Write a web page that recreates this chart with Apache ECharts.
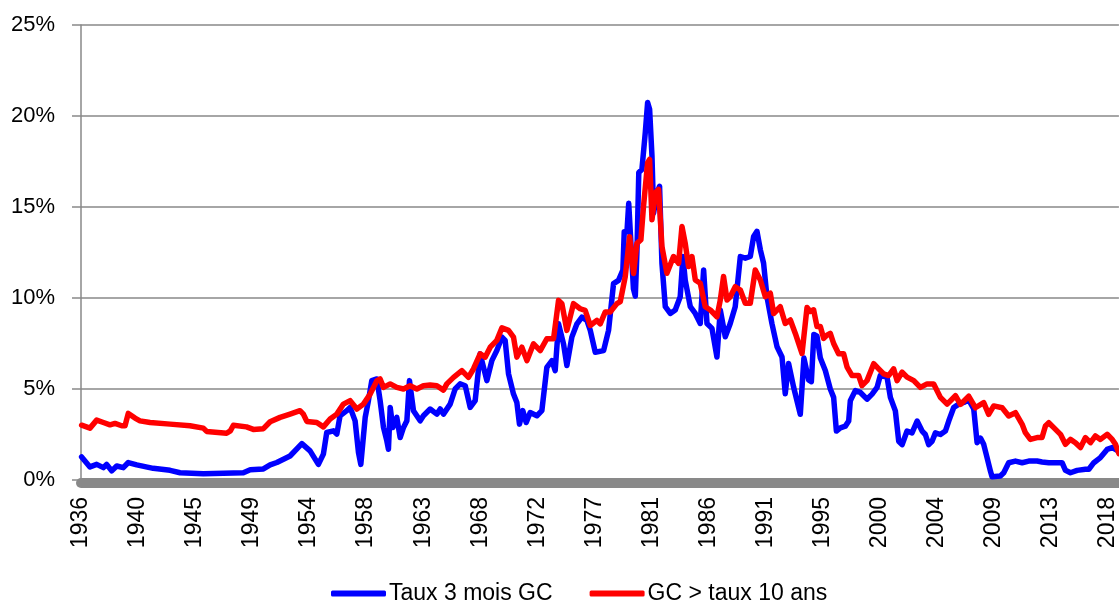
<!DOCTYPE html>
<html><head><meta charset="utf-8">
<script src="https://cdn.jsdelivr.net/npm/echarts@6/dist/echarts.min.js"></script>
<style>html,body{margin:0;padding:0;background:#fff}#c{width:1119px;height:601px}</style>
</head><body><div id="c"></div>
<script>
const tickLabels = ['1936','1940','1945','1949','1954','1958','1963','1968','1972','1977','1981','1986','1991','1995','2000','2004','2009','2013','2018'];

const blueDates = [1936.05,1936.72,1937.26,1937.8,1938.06,1938.47,1938.87,1939.4,1939.8,1940.48,1941.8,1943.16,1943.96,1945.83,1949.05,1949.6,1950.66,1951.2,1951.74,1952.8,1953.75,1954.41,1955.08,1955.48,1955.75,1956.29,1956.56,1956.82,1957.36,1957.63,1958.03,1958.3,1958.49,1958.84,1959.1,1959.37,1959.78,1960.04,1960.31,1960.58,1960.71,1960.85,1961.06,1961.38,1961.65,1961.92,1962.19,1962.4,1962.72,1963.26,1963.52,1964.06,1964.6,1964.87,1965.13,1965.67,1966.07,1966.47,1966.88,1967.28,1967.68,1968.08,1968.62,1969.02,1969.42,1969.83,1970.09,1970.36,1970.76,1971.03,1971.24,1971.51,1971.78,1972.1,1972.64,1973.04,1973.44,1973.85,1974.11,1974.38,1974.78,1975.05,1975.45,1975.86,1976.26,1976.66,1976.93,1977.33,1978.0,1978.4,1978.8,1979.2,1979.55,1979.66,1979.88,1980.02,1980.14,1980.4,1980.55,1980.68,1980.83,1981.08,1981.35,1981.54,1981.7,1981.89,1982.02,1982.29,1982.5,1982.69,1982.96,1983.36,1983.76,1984.16,1984.38,1984.56,1984.97,1985.37,1985.77,1986.04,1986.31,1986.71,1987.11,1987.38,1987.78,1988.18,1988.58,1988.99,1989.39,1989.79,1990.06,1990.33,1990.6,1990.86,1991.13,1991.53,1991.94,1992.34,1992.6,1992.87,1993.27,1993.81,1994.1,1994.48,1994.7,1994.9,1995.15,1995.42,1995.82,1996.22,1996.49,1996.71,1997.03,1997.43,1997.7,1997.83,1998.23,1998.64,1999.17,1999.58,1999.98,2000.24,2000.78,2001.05,2001.45,2001.72,2001.99,2002.39,2002.79,2003.2,2003.6,2003.86,2004.13,2004.4,2004.67,2005.07,2005.47,2005.74,2006.14,2006.55,2006.95,2007.35,2007.75,2008.02,2008.29,2008.55,2008.82,2009.09,2009.22,2009.89,2010.16,2010.56,2011.1,2011.64,2012.17,2012.84,2013.24,2013.78,2014.45,2014.85,2015.12,2015.52,2016.06,2016.73,2017.0,2017.4,2017.93,2018.47,2018.88,2019.28,2019.42];
const blueRates = [1.27,0.72,0.86,0.68,0.86,0.50,0.77,0.68,0.96,0.83,0.64,0.53,0.40,0.35,0.40,0.56,0.61,0.83,0.96,1.32,2.0,1.60,0.86,1.42,2.61,2.70,2.52,3.53,3.81,3.99,3.25,1.51,0.86,3.44,4.36,5.46,5.55,4.36,2.89,2.15,1.69,3.99,2.89,3.44,2.33,2.89,3.25,5.46,3.81,3.25,3.53,3.90,3.62,3.90,3.62,4.17,5.0,5.28,5.18,3.99,4.36,6.93,5.46,6.56,7.11,7.85,7.67,5.83,4.72,4.26,3.07,3.81,3.16,3.71,3.53,3.81,6.19,6.56,6.01,8.58,7.48,6.29,7.85,8.58,8.95,8.77,8.22,7.02,7.11,8.22,10.79,10.97,11.53,13.64,13.64,15.2,15.2,10.5,10.1,12.5,16.9,17.06,19.08,20.74,20.37,17.79,14.67,15.77,16.14,11.91,9.52,9.15,9.34,10.07,12.28,10.99,9.52,9.15,8.60,11.54,8.60,8.33,6.76,9.34,7.87,8.60,9.52,12.28,12.19,12.28,13.38,13.66,12.65,11.91,10.07,8.60,7.32,6.76,4.74,6.40,5.11,3.61,6.7,5.5,5.4,8.0,7.9,6.7,6.02,5.0,4.54,2.69,2.87,2.96,3.24,4.35,4.91,4.81,4.44,4.72,5.09,5.74,5.65,4.54,3.80,2.13,1.94,2.69,2.59,3.24,2.69,2.5,1.94,2.13,2.59,2.5,2.69,3.24,3.98,4.17,4.26,4.4,3.9,2.05,2.3,1.96,1.23,0.49,0.18,0.22,0.40,0.95,1.04,0.95,1.04,1.04,0.99,0.95,0.95,0.95,0.53,0.40,0.53,0.59,0.59,0.95,1.23,1.68,1.78,1.63,1.55];

const redDates = [1936.05,1936.72,1937.26,1937.8,1938.33,1938.73,1939.27,1939.54,1939.8,1940.34,1940.74,1941.55,1943.16,1944.76,1945.83,1946.1,1947.7,1948.0,1948.25,1949.3,1949.85,1950.66,1951.2,1952.0,1952.8,1953.6,1953.87,1954.15,1954.95,1955.48,1956.02,1956.56,1957.09,1957.63,1958.17,1958.7,1959.24,1959.78,1960.04,1960.31,1960.85,1961.38,1961.92,1962.45,1962.99,1963.52,1964.06,1964.6,1965.13,1965.4,1965.94,1966.61,1967.14,1967.54,1968.08,1968.48,1968.89,1969.42,1969.83,1970.36,1970.76,1971.03,1971.43,1971.84,1972.37,1972.91,1973.44,1973.98,1974.38,1974.65,1975.05,1975.58,1976.12,1976.52,1976.93,1977.46,1977.73,1978.13,1978.53,1979.07,1979.34,1979.74,1980.09,1980.41,1980.68,1981.0,1981.21,1981.54,1981.7,1981.89,1982.15,1982.42,1982.69,1983.09,1983.62,1984.03,1984.3,1984.56,1984.83,1985.1,1985.37,1985.77,1986.17,1986.58,1987.11,1987.38,1987.64,1987.92,1988.18,1988.58,1988.99,1989.39,1989.79,1990.19,1990.6,1991.0,1991.4,1991.67,1992.2,1992.6,1993.01,1993.41,1993.95,1994.35,1994.61,1994.88,1995.15,1995.42,1995.69,1995.96,1996.22,1996.49,1996.89,1997.29,1997.57,1997.97,1998.5,1998.77,1999.17,1999.71,2000.11,2000.51,2000.91,2001.31,2001.59,2001.99,2002.39,2002.93,2003.46,2004.0,2004.53,2005.07,2005.61,2006.28,2006.68,2007.35,2007.88,2008.55,2008.95,2009.36,2010.03,2010.56,2011.1,2011.64,2011.9,2012.3,2012.84,2013.24,2013.51,2013.78,2014.18,2014.72,2015.12,2015.52,2015.92,2016.33,2016.73,2017.13,2017.53,2017.93,2018.47,2018.88,2019.14,2019.42];
const redRates = [3.01,2.85,3.29,3.16,3.03,3.11,2.98,2.98,3.66,3.40,3.25,3.16,3.07,2.98,2.85,2.67,2.57,2.70,3.01,2.92,2.78,2.82,3.2,3.44,3.62,3.81,3.62,3.22,3.16,2.92,3.35,3.62,4.17,4.36,3.90,4.17,4.72,5.46,5.55,5.09,5.28,5.09,5.0,5.18,5.0,5.18,5.22,5.18,4.94,5.28,5.64,6.01,5.64,6.10,6.93,6.75,7.30,7.67,8.36,8.22,7.85,6.75,7.30,6.56,7.48,7.11,7.76,7.76,9.87,9.69,8.22,9.69,9.41,9.32,8.49,8.77,8.58,9.23,9.23,9.69,9.80,11.17,13.37,11.35,13.0,13.2,15.04,17.43,17.61,14.3,15.77,15.96,12.83,11.36,12.28,11.91,13.93,13.01,11.73,12.28,10.99,10.81,9.52,9.34,8.97,9.89,11.18,9.89,10.07,10.62,10.44,9.71,9.71,11.54,10.99,10.07,10.26,9.15,9.52,8.60,8.79,8.05,6.95,9.48,9.26,9.35,8.43,8.43,7.78,7.96,8.06,7.5,6.94,6.94,6.2,5.74,5.74,5.19,5.46,6.39,6.11,5.83,5.74,6.11,5.46,5.93,5.65,5.46,5.09,5.28,5.28,4.54,4.17,4.63,4.15,4.6,3.97,4.25,3.61,4.07,3.97,3.52,3.70,3.06,2.6,2.23,2.33,2.33,2.97,3.15,2.88,2.51,1.96,2.23,2.05,1.78,2.33,2.05,2.42,2.23,2.51,2.23,1.96,1.45];

const START_YEAR = 1936;
const MONTHS_PER_TICK = 55;
function toPairs(dates, rates){ return dates.map((d,i)=>[(d-START_YEAR)*12, rates[i]]); }

const FONT = 'Liberation Sans';
const GREY = '#898989';
const chart = echarts.init(document.getElementById('c'));
chart.setOption({
  animation:false,
  grid:{left:81,right:0,top:25,bottom:121},
  xAxis:{type:'value',min:0,max:1001,interval:MONTHS_PER_TICK,offset:3,
    axisLine:{show:true,onZero:false,lineStyle:{color:GREY,width:10}},
    axisTick:{show:false},splitLine:{show:false},
    axisLabel:{rotate:90,margin:14,fontSize:23,color:'#000',fontFamily:FONT,showMaxLabel:false,
      formatter:function(v){const i=Math.round(v/MONTHS_PER_TICK);return (Math.abs(v-i*MONTHS_PER_TICK)<1e-6&&i<tickLabels.length)?tickLabels[i]:'';}}
  },
  yAxis:{type:'value',min:0,max:25,interval:5,
    axisLine:{show:true,lineStyle:{color:GREY,width:1.5}},
    axisTick:{show:true,length:9,lineStyle:{color:GREY,width:1.5}},
    splitLine:{show:true,lineStyle:{color:GREY,width:1.5}},
    axisLabel:{formatter:'{value}%',fontSize:22,margin:26,color:'#000',fontFamily:FONT}
  },
  legend:{left:326,top:577,icon:'roundRect',itemWidth:55,itemHeight:6,itemGap:37,
    textStyle:{fontSize:23,color:'#000',fontFamily:FONT,padding:[0,0,0,-2]},
    data:['Taux 3 mois GC','GC > taux 10 ans']},
  series:[
    {name:'Taux 3 mois GC',type:'line',data:toPairs(blueDates,blueRates),showSymbol:false,
     lineStyle:{color:'#0000ff',width:5.5,join:'round',cap:'round'},itemStyle:{color:'#0000ff'},z:2},
    {name:'GC > taux 10 ans',type:'line',data:toPairs(redDates,redRates),showSymbol:false,
     lineStyle:{color:'#ff0000',width:5.5,join:'round',cap:'round'},itemStyle:{color:'#ff0000'},z:3}
  ]
});
</script></body></html>
